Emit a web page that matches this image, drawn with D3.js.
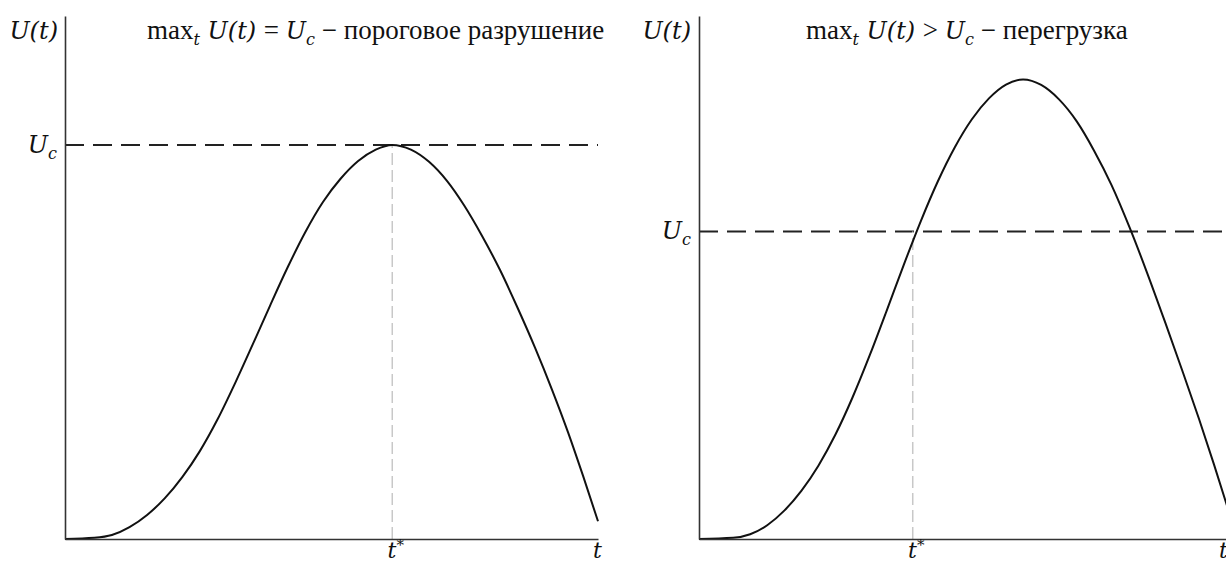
<!DOCTYPE html>
<html>
<head>
<meta charset="utf-8">
<script src="https://cdn.jsdelivr.net/npm/d3@7"></script>
<style>
  html, body { margin: 0; padding: 0; background: #fff; }
  svg { display: block; }
  .math { font-family: "DejaVu Serif", "Liberation Serif", serif; font-style: italic; }
  .txt  { font-family: "Liberation Serif", "DejaVu Serif", serif; font-style: normal; }
</style>
</head>
<body>
<svg id="chart" width="1226" height="564"></svg>
<script>
// Left panel: U(t) reaches the critical level U_c exactly once (threshold failure)
const leftT = [0, 0.55, 0.88, 1.21, 1.54, 1.87, 2.2, 2.53, 2.86, 3.19, 3.52, 3.85, 4.18, 4.51, 4.84, 5.17, 5.5, 5.83, 6.14,
               6.49, 6.83, 7.17, 7.49, 7.82, 8.16, 8.48, 8.82, 9.14, 9.44, 9.72, 10.0];
const leftU = [0, 0.003, 0.010, 0.030, 0.061, 0.103, 0.157, 0.223, 0.303, 0.395, 0.493, 0.593, 0.690, 0.779, 0.855, 0.914, 0.959, 0.988, 1.000,
               0.988, 0.957, 0.908, 0.846, 0.770, 0.683, 0.590, 0.485, 0.378, 0.270, 0.160, 0.045];

// Right panel: U(t) overshoots U_c (overload)
const rightT = [0, 0.64, 0.96, 1.28, 1.60, 1.92, 2.24, 2.56, 2.88, 3.20, 3.52, 3.84, 4.16, 4.48, 4.80, 5.12, 5.44, 5.76, 6.08,
                6.42, 6.75, 7.09, 7.41, 7.74, 8.08, 8.40, 8.74, 9.06, 9.38, 9.66, 9.94];
const rightU = [0, 0.003, 0.012, 0.035, 0.072, 0.122, 0.186, 0.265, 0.359, 0.465, 0.579, 0.695, 0.806, 0.907, 0.994, 1.065, 1.118, 1.153, 1.166,
                1.152, 1.116, 1.059, 0.986, 0.898, 0.790, 0.678, 0.552, 0.430, 0.305, 0.190, 0.070];

// Critical levels and the moments t*
const ucLevels = [1.0, 0.78];
const tStars = [6.14, 4.01];

// Axis / title labels
const yAxisLabel = "U(t)";
const ucLabel = { base: "U", sub: "c" };
const xTickLabels = [{ base: "t", sup: "*" }, { base: "t", sup: "" }];
const titleRelations = ["=", ">"];
const titleWords = ["пороговое разрушение", " перегрузка"];

const svg = d3.select("#chart");

const panels = [
  { t: leftT,  u: leftU,  uc: ucLevels[0], tStar: tStars[0], x0: 65,  x1: 598,  tMax: 10, endLabelDx: -1, rel: titleRelations[0], word: titleWords[0], titleX: 147, yLabX: 58 },
  { t: rightT, u: rightU, uc: ucLevels[1], tStar: tStars[1], x0: 699, x1: 1232, tMax: 10, endLabelDx: -9, rel: titleRelations[1], word: titleWords[1], titleX: 806, yLabX: 691 }
];

const yBottom = 539, yTop = 16;
const y = d3.scaleLinear().domain([0, 1.327]).range([yBottom, yTop]);

const axisColor = "#333";
const mathSize = 24, subSize = 16, wordSize = 27;

panels.forEach(p => {
  const x = d3.scaleLinear().domain([0, p.tMax]).range([p.x0, p.x1]);
  const g = svg.append("g");

  // Uc dashed level
  g.append("line")
    .attr("x1", x(0)).attr("x2", x(p.tMax))
    .attr("y1", y(p.uc)).attr("y2", y(p.uc))
    .attr("stroke", "#222").attr("stroke-width", 2)
    .attr("stroke-dasharray", "19,9");

  // t* gray dashed guide
  g.append("line")
    .attr("x1", x(p.tStar)).attr("x2", x(p.tStar))
    .attr("y1", y(0)).attr("y2", y(p.uc))
    .attr("stroke", "#c8c8c8").attr("stroke-width", 1.5)
    .attr("stroke-dasharray", "12,5");

  // Curve
  const pts = p.t.map((tv, i) => [tv, p.u[i]]);
  g.append("path")
    .datum(pts)
    .attr("fill", "none")
    .attr("stroke", "#111")
    .attr("stroke-width", 2)
    .attr("d", d3.line().x(d => x(d[0])).y(d => y(d[1])).curve(d3.curveMonotoneX));

  // X axis (bottom) with t* and t labels
  const xAxis = d3.axisBottom(x).tickValues([p.tStar, p.tMax]).tickSize(0).tickPadding(0).tickFormat("");
  const gx = g.append("g").attr("transform", `translate(0,${yBottom})`).call(xAxis);
  gx.select(".domain").attr("stroke", axisColor).attr("stroke-width", 1.6);
  gx.selectAll(".tick").each(function (d, i) {
    const lab = xTickLabels[i];
    const tx = d3.select(this).append("text")
      .attr("class", "math")
      .attr("fill", "#111")
      .attr("font-size", 22)
      .attr("y", 19)
      .attr("text-anchor", "middle")
      .attr("x", i === 1 ? p.endLabelDx : 3);
    tx.append("tspan").text(lab.base);
    if (lab.sup) tx.append("tspan").attr("font-size", 15).attr("dy", -8).text(lab.sup);
  });

  // Y axis (left) with U_c label
  const yAxis = d3.axisLeft(y).tickValues([p.uc]).tickSize(0).tickPadding(0).tickFormat("");
  const gy = g.append("g").attr("transform", `translate(${p.x0},0)`).call(yAxis);
  gy.select(".domain").attr("stroke", axisColor).attr("stroke-width", 1.6);
  gy.selectAll(".tick").each(function () {
    const tx = d3.select(this).append("text")
      .attr("class", "math")
      .attr("fill", "#111")
      .attr("font-size", mathSize)
      .attr("x", -8)
      .attr("dy", "0.3em")
      .attr("text-anchor", "end");
    tx.append("tspan").text(ucLabel.base);
    tx.append("tspan").attr("font-size", subSize).attr("dy", 6).text(ucLabel.sub);
  });

  // Y axis title U(t)
  svg.append("text")
    .attr("class", "math")
    .attr("x", p.yLabX).attr("y", 39)
    .attr("text-anchor", "end")
    .attr("font-size", mathSize)
    .attr("fill", "#111")
    .text(yAxisLabel);

  // Panel title: max_t U(t) ? U_c − word
  const title = svg.append("text")
    .attr("x", p.titleX).attr("y", 39)
    .attr("font-size", wordSize)
    .attr("fill", "#111");
  title.append("tspan").attr("class", "txt").text("max");
  title.append("tspan").attr("class", "math").attr("font-size", subSize).attr("dy", 6).text("t");
  title.append("tspan").attr("class", "math").attr("font-size", mathSize).attr("dy", -6).text(" U(t) ");
  title.append("tspan").attr("class", "txt").text(p.rel + " ");
  title.append("tspan").attr("class", "math").attr("font-size", mathSize).text("U");
  title.append("tspan").attr("class", "math").attr("font-size", subSize).attr("dy", 6).text("c");
  title.append("tspan").attr("class", "txt").attr("dy", -6).text(" − " + p.word);
});
</script>
</body>
</html>
